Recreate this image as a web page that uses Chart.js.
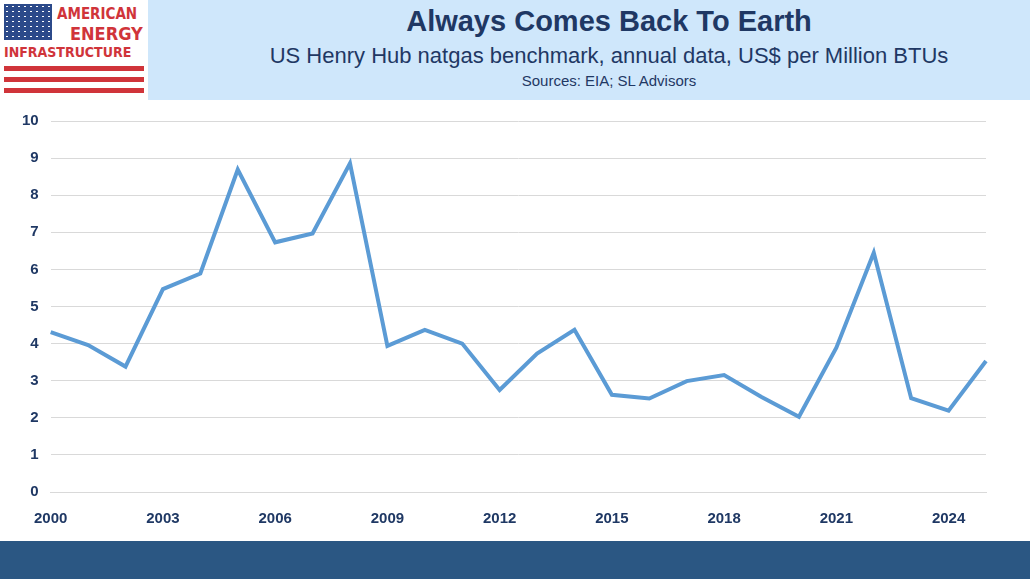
<!DOCTYPE html>
<html><head><meta charset="utf-8">
<script src="https://cdn.jsdelivr.net/npm/chart.js@4"></script>
<style>
body{margin:0;width:1030px;height:579px;background:#fff;position:relative;overflow:hidden;font-family:"Liberation Sans",Arial,sans-serif}
#head{position:absolute;left:148px;top:0;width:882px;height:100px;background:#cfe7fb;text-align:center}
#t1{position:absolute;left:0;right:0;top:5px;font-size:29px;font-weight:bold;color:#1f3864;padding-left:40px}
#t2{position:absolute;left:0;right:0;top:43px;font-size:22px;color:#1f3864;padding-left:40px}
#t3{position:absolute;left:0;right:0;top:72px;font-size:15px;color:#1f3864;padding-left:40px}
#logo{position:absolute;left:0;top:0;width:148px;height:97px}
#flag{position:absolute;left:4px;top:4px;width:48px;height:36px;background:#2c4a8a;background-image:radial-gradient(#fff 1px,transparent 1.3px);background-size:6px 5px}
.lt{position:absolute;color:#d0343a;font-weight:bold;font-family:"DejaVu Sans Condensed","Liberation Sans Narrow",sans-serif}
.st{position:absolute;left:4px;width:140px;height:5px;background:#d0343a}
#foot{position:absolute;left:0;top:541px;width:1030px;height:38px;background:#2b5783}
#wrap{position:absolute;left:0;top:100px;width:1030px;height:438px}
</style></head><body>
<div id="head"><div id="t1">Always Comes Back To Earth</div>
<div id="t2">US Henry Hub natgas benchmark, annual data, US$ per Million BTUs</div>
<div id="t3">Sources: EIA; SL Advisors</div></div>
<div id="logo"><div id="flag"></div>
<div class="lt" style="left:57px;top:5px;font-size:15px">AMERICAN</div>
<div class="lt" style="left:70px;top:23px;font-size:18px">ENERGY</div>
<div class="lt" style="left:4px;top:44px;font-size:14px">INFRASTRUCTURE</div>
<div class="st" style="top:66px"></div><div class="st" style="top:77px"></div><div class="st" style="top:88px"></div></div>
<div id="wrap"><canvas id="c"></canvas></div>
<div id="foot"></div>
<script>
const years = ["2000","2001","2002","2003","2004","2005","2006","2007","2008","2009","2010","2011","2012","2013","2014","2015","2016","2017","2018","2019","2020","2021","2022","2023","2024","2025"];
const prices = [4.31,3.96,3.38,5.47,5.89,8.69,6.73,6.97,8.86,3.94,4.37,4.00,2.75,3.73,4.37,2.62,2.52,2.99,3.15,2.56,2.03,3.89,6.45,2.53,2.19,3.53];
const yTicks = [0,1,2,3,4,5,6,7,8,9,10];

new Chart(document.getElementById("c"), {
  type: "line",
  data: { labels: years, datasets: [{ data: prices, borderColor: "#5b9bd5", borderWidth: 4, pointRadius: 0, tension: 0 }] },
  options: {
    responsive: true, maintainAspectRatio: false, animation: false,
    layout: { padding: { left: 10, right: 44, top: 18, bottom: 0 } },
    plugins: { legend: { display: false }, tooltip: { enabled: false } },
    scales: {
      y: {
        min: 0, max: 10,
        afterBuildTicks: axis => { axis.ticks = yTicks.map(v => ({ value: v })); },
        grid: { color: "#d9d9d9", drawTicks: false },
        border: { display: false },
        ticks: { color: "#1f3864", font: { family: "Liberation Sans", size: 15, weight: "bold" }, padding: 12 }
      },
      x: {
        grid: { display: false },
        border: { color: "#d9d9d9" },
        ticks: {
          autoSkip: false, maxRotation: 0, padding: 10,
          color: "#1f3864", font: { family: "Liberation Sans", size: 15, weight: "bold" },
          callback: (v, i) => (i % 3 === 0 ? years[i] : "")
        }
      }
    }
  }
});
</script>
</body></html>
